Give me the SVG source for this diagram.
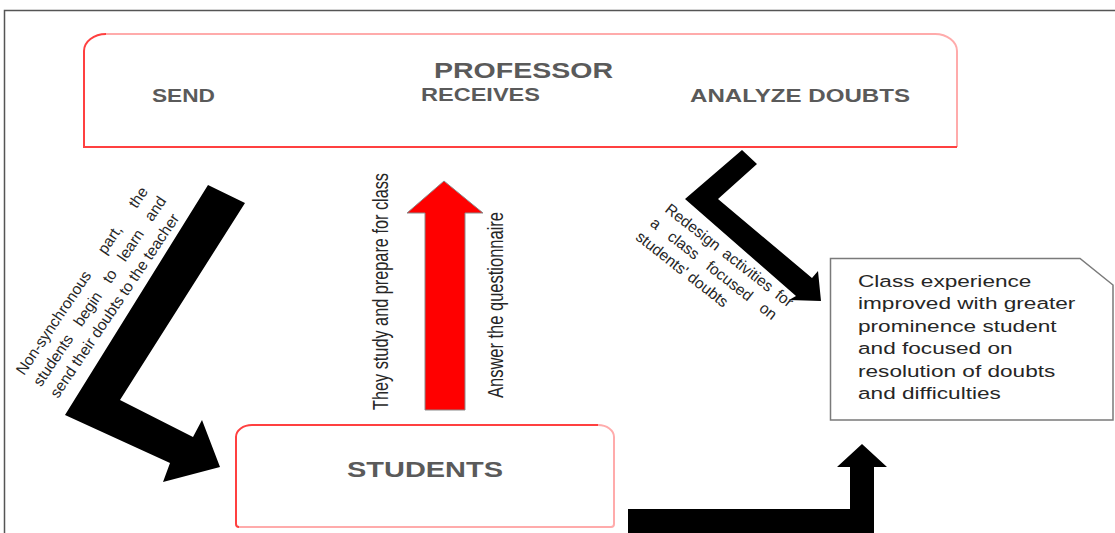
<svg xmlns="http://www.w3.org/2000/svg" width="1115" height="533" viewBox="0 0 1115 533">
  <style>
    .head { font-family: "Liberation Sans", Arial, sans-serif; font-weight: bold; fill: #5a5a5a; }
    .note { font-family: "Liberation Sans", Arial, sans-serif; fill: #262626; }
    .frame { fill: none; stroke: #555; stroke-width: 1.5; }
    .edge-strong { fill: none; stroke: #ff4040; stroke-width: 2; }
    .edge-soft { fill: none; stroke: #ffabab; stroke-width: 2; }
    .bent { fill: #000; }
  </style>

  <rect width="1115" height="533" fill="#fff"/>

  <!-- outer frame: top and left rules -->
  <g id="frame">
    <path class="frame" d="M4.5 533 V10.5 H1115"/>
  </g>

  <!-- professor block: rounded top corners, square bottom -->
  <g id="node-professor">
    <path d="M106 34 H935 A22 17 0 0 1 957 51 V147 H84 V51 A22 17 0 0 1 106 34 Z" fill="#fff"/>
    <path class="edge-soft" d="M106 34 H935 A22 17 0 0 1 957 51 V147"/>
    <path class="edge-strong" d="M957 147 H84 V51 A22 17 0 0 1 106 34"/>
    <text class="head" x="434" y="78" font-size="22" textLength="179" lengthAdjust="spacingAndGlyphs">PROFESSOR</text>
    <text class="head" x="152" y="102" font-size="18" textLength="63" lengthAdjust="spacingAndGlyphs">SEND</text>
    <text class="head" x="421" y="101" font-size="18" textLength="119" lengthAdjust="spacingAndGlyphs">RECEIVES</text>
    <text class="head" x="690" y="102" font-size="18" textLength="220" lengthAdjust="spacingAndGlyphs">ANALYZE DOUBTS</text>
  </g>

  <!-- students block -->
  <g id="node-students">
    <path d="M252 425 H598 A16 12 0 0 1 614 437 V524 A3 3 0 0 1 611 527 H239 A3 3 0 0 1 236 524 V437 A16 12 0 0 1 252 425 Z" fill="#fff"/>
    <path class="edge-soft" d="M598 425 A16 12 0 0 1 614 437 V524 A3 3 0 0 1 611 527 H239"/>
    <path class="edge-strong" d="M239 527 A3 3 0 0 1 236 524 V437 A16 12 0 0 1 252 425 H598"/>
    <text class="head" x="347" y="477" font-size="22" textLength="156" lengthAdjust="spacingAndGlyphs">STUDENTS</text>
  </g>

  <!-- outcome note with clipped corner -->
  <g id="node-outcome">
    <path d="M830.5 258.5 H1080 L1113 285 V420 H830.5 Z" fill="#fff" stroke="#7a7a7a" stroke-width="1.5"/>
    <g class="note" font-size="17" transform="translate(858 0) scale(1.33 1)">
      <text x="0" y="287">Class experience</text>
      <text x="0" y="309.5">improved with greater</text>
      <text x="0" y="332">prominence student</text>
      <text x="0" y="354.5">and focused on</text>
      <text x="0" y="377">resolution of doubts</text>
      <text x="0" y="399.5">and difficulties</text>
    </g>
  </g>

  <g id="connectors">
    <!-- send: professor to students -->
    <polygon class="bent" points="208,185 245,203 120,400 193,437 202,420 220,467 163,482 170,463 65,415"/>
    <!-- receives: students up to professor -->
    <polygon points="425,410 425,213 407,213 444,181 483,213 465,213 465,410" fill="#ff0000" stroke="#8a8a8a" stroke-width="1"/>
    <!-- analyze: professor to outcome -->
    <polygon class="bent" points="742,150 757,164 718,199 812,278 818,271 821,301 789,300 796,296 685,199"/>
    <!-- students to outcome -->
    <polygon class="bent" points="628,509 850,509 850,467 837,467 862,444 887,467 874,467 874,533 628,533"/>
  </g>

  <g id="connector-labels" class="note" fill="#111">
    <g font-size="15.5" transform="translate(24 376) rotate(-56)">
      <text x="0" y="0" word-spacing="20">Non-synchronous part, the</text>
      <text x="0" y="20.5" word-spacing="9.5">students begin to learn and</text>
      <text x="0" y="41">send their doubts to the teacher</text>
    </g>
    <text font-size="16.3" transform="translate(387.5 410) scale(1.33 1) rotate(-90)" textLength="237" lengthAdjust="spacingAndGlyphs">They study and prepare for class</text>
    <text font-size="16.3" transform="translate(502.5 398) scale(1.33 1) rotate(-90)" textLength="186" lengthAdjust="spacingAndGlyphs">Answer the questionnaire</text>
    <g font-size="15.5" transform="translate(664 211) rotate(38)">
      <text x="0" y="0" word-spacing="3">Redesign activities for</text>
      <text x="-3" y="20" word-spacing="9">a class focused on</text>
      <text x="-6" y="40">students' doubts</text>
    </g>
  </g>
</svg>
